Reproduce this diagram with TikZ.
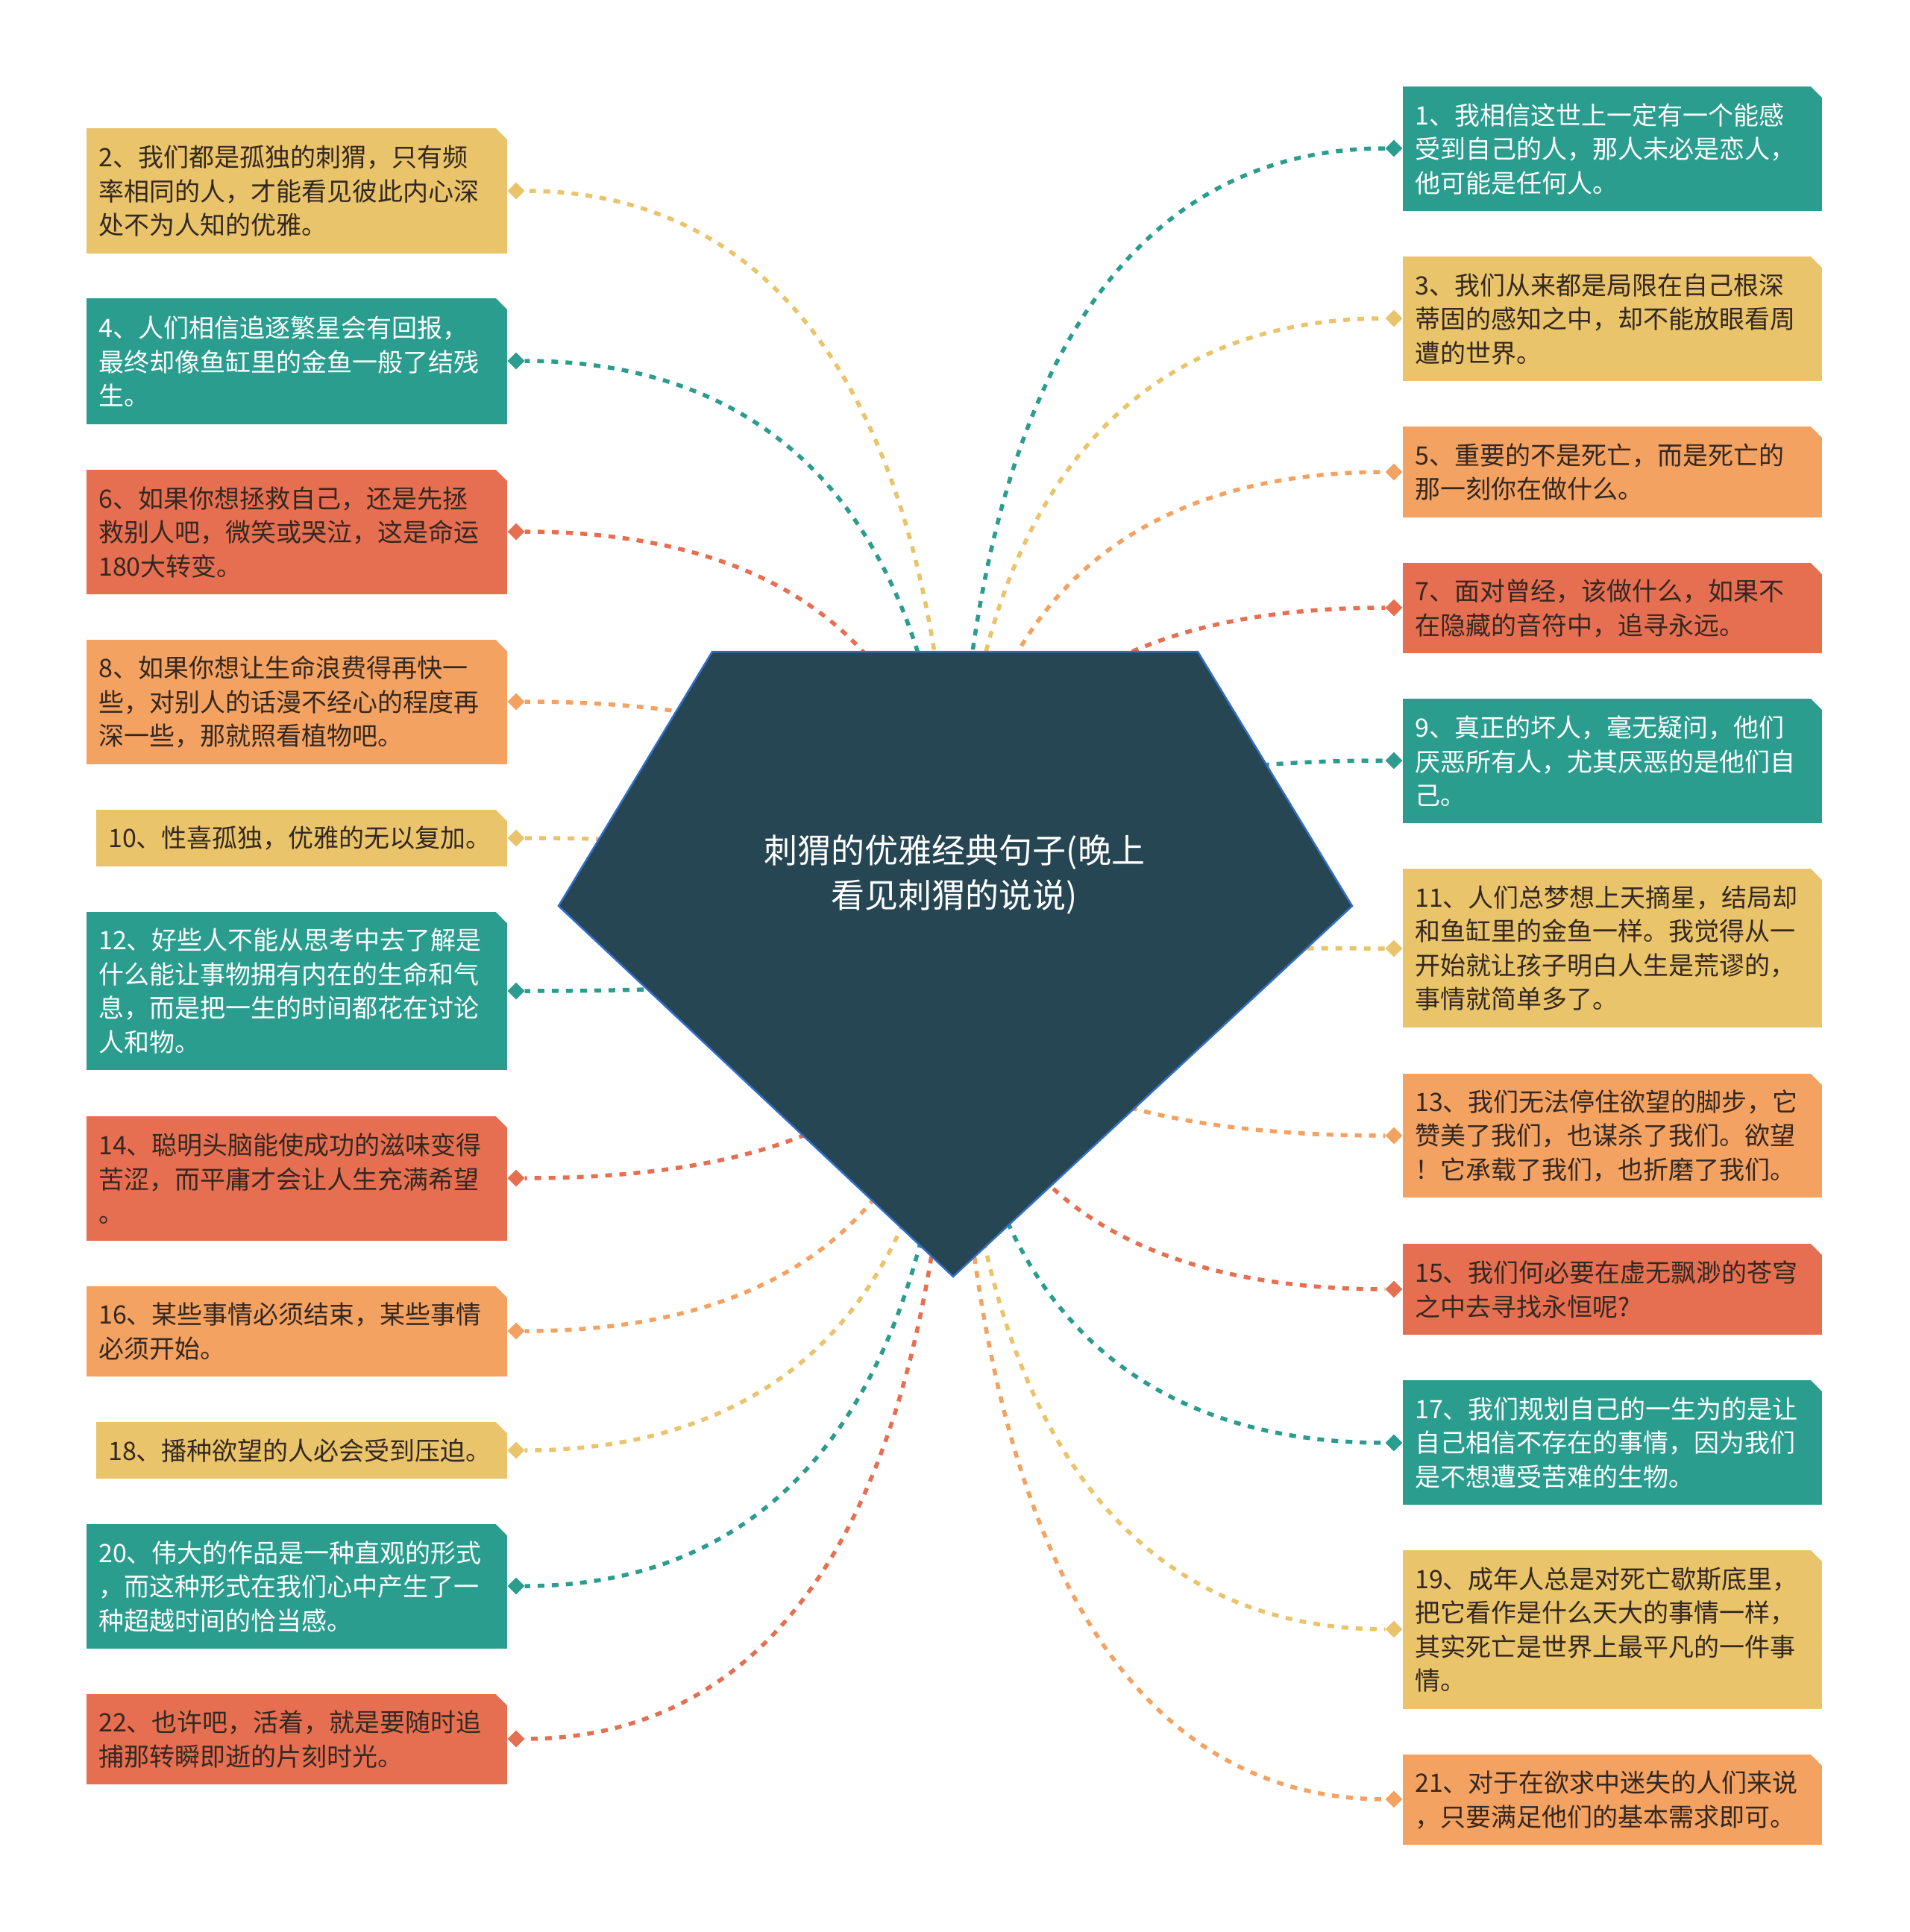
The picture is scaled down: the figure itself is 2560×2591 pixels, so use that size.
\documentclass[tikz,border=0pt]{standalone}
\usepackage{fontspec}
\setmainfont{Noto Sans CJK SC}
\newfontfamily\cjkfont{Noto Sans CJK SC}
\usetikzlibrary{shapes.geometric,calc}
\definecolor{cy}{RGB}{233,196,106}
\definecolor{ct}{RGB}{42,157,143}
\definecolor{co}{RGB}{244,162,97}
\definecolor{cr}{RGB}{231,111,81}
\definecolor{cpent}{RGB}{38,70,83}
\definecolor{cblue}{RGB}{50,110,200}
\definecolor{cdark}{RGB}{52,40,34}
\newcommand\boxfnt{\cjkfont\fontsize{34pt}{45.5pt}\selectfont}
\newcommand\titlefnt{\cjkfont\fontsize{45pt}{59.5pt}\selectfont}
\tikzset{
  box/.style={rectangle, anchor=north west, text width=#1, inner xsep=16pt, inner ysep=0pt,
    align=left, font=\boxfnt,
    path picture={\fill[white] ([xshift=-15pt]path picture bounding box.north east)
      -- ([xshift=1pt,yshift=1pt]path picture bounding box.north east)
      -- ([yshift=-15pt]path picture bounding box.north east) -- cycle;}},
  ybox/.style={fill=cy, text=cdark},
  tbox/.style={fill=ct, text=white},
  obox/.style={fill=co, text=cdark},
  rbox/.style={fill=cr, text=cdark},
  dia/.style={diamond, minimum width=23pt, minimum height=23pt, inner sep=0pt, fill=#1},
  conn/.style={draw=#1, line width=5.5pt, dash pattern=on 9pt off 10pt},
}
\begin{document}
\begin{tikzpicture}[x=1pt,y=-1pt]
\useasboundingbox[fill=white] (0,0) rectangle (2560,2591);
\coordinate (o) at (1280,1250);

% ---------- left boxes ----------
\node[box=532pt, ybox, minimum height=168pt] (b2) at (116,172) {2、我们都是孤独的刺猬，只有频\\率相同的人，才能看见彼此内心深\\处不为人知的优雅。};
\node[box=532pt, tbox, minimum height=169pt] (b4) at (116,400) {4、人们相信追逐繁星会有回报，\\最终却像鱼缸里的金鱼一般了结残\\生。};
\node[box=532pt, rbox, minimum height=167pt] (b6) at (116,630) {6、如果你想拯救自己，还是先拯\\救别人吧，微笑或哭泣，这是命运\\180大转变。};
\node[box=532pt, obox, minimum height=167pt] (b8) at (116,858) {8、如果你想让生命浪费得再快一\\些，对别人的话漫不经心的程度再\\深一些，那就照看植物吧。};
\node[box=519pt, ybox, minimum height=76pt] (b10) at (129,1086) {10、性喜孤独，优雅的无以复加。};
\node[box=532pt, tbox, minimum height=212pt] (b12) at (116,1223) {12、好些人不能从思考中去了解是\\什么能让事物拥有内在的生命和气\\息，而是把一生的时间都花在讨论\\人和物。};
\node[box=532pt, rbox, minimum height=167pt] (b14) at (116,1497) {14、聪明头脑能使成功的滋味变得\\苦涩，而平庸才会让人生充满希望\\。};
\node[box=532pt, obox, minimum height=121pt] (b16) at (116,1725) {16、某些事情必须结束，某些事情\\必须开始。};
\node[box=519pt, ybox, minimum height=76pt] (b18) at (129,1907) {18、播种欲望的人必会受到压迫。};
\node[box=532pt, tbox, minimum height=167pt] (b20) at (116,2044) {20、伟大的作品是一种直观的形式\\，而这种形式在我们心中产生了一\\种超越时间的恰当感。};
\node[box=532pt, rbox, minimum height=121pt] (b22) at (116,2272) {22、也许吧，活着，就是要随时追\\捕那转瞬即逝的片刻时光。};

% ---------- right boxes ----------
\node[box=530pt, tbox, minimum height=167pt] (b1) at (1881,116) {1、我相信这世上一定有一个能感\\受到自己的人，那人未必是恋人，\\他可能是任何人。};
\node[box=530pt, ybox, minimum height=167pt] (b3) at (1881,344) {3、我们从来都是局限在自己根深\\蒂固的感知之中，却不能放眼看周\\遭的世界。};
\node[box=530pt, obox, minimum height=122pt] (b5) at (1881,572) {5、重要的不是死亡，而是死亡的\\那一刻你在做什么。};
\node[box=530pt, rbox, minimum height=121pt] (b7) at (1881,755) {7、面对曾经，该做什么，如果不\\在隐藏的音符中，追寻永远。};
\node[box=530pt, tbox, minimum height=167pt] (b9) at (1881,937) {9、真正的坏人，毫无疑问，他们\\厌恶所有人，尤其厌恶的是他们自\\己。};
\node[box=530pt, ybox, minimum height=213pt] (b11) at (1881,1165) {11、人们总梦想上天摘星，结局却\\和鱼缸里的金鱼一样。我觉得从一\\开始就让孩子明白人生是荒谬的，\\事情就简单多了。};
\node[box=530pt, obox, minimum height=166pt] (b13) at (1881,1440) {13、我们无法停住欲望的脚步，它\\赞美了我们，也谋杀了我们。欲望\\！它承载了我们，也折磨了我们。};
\node[box=530pt, rbox, minimum height=122pt] (b15) at (1881,1668) {15、我们何必要在虚无飘渺的苍穹\\之中去寻找永恒呢?};
\node[box=530pt, tbox, minimum height=167pt] (b17) at (1881,1851) {17、我们规划自己的一生为的是让\\自己相信不存在的事情，因为我们\\是不想遭受苦难的生物。};
\node[box=530pt, ybox, minimum height=213pt] (b19) at (1881,2079) {19、成年人总是对死亡歇斯底里，\\把它看作是什么天大的事情一样，\\其实死亡是世界上最平凡的一件事\\情。};
\node[box=530pt, obox, minimum height=121pt] (b21) at (1881,2353) {21、对于在欲求中迷失的人们来说\\，只要满足他们的基本需求即可。};

% ---------- diamonds ----------
\node[dia=cy] (d2) at (692,256) {};
\node[dia=ct] (d4) at (692,484) {};
\node[dia=cr] (d6) at (692,713) {};
\node[dia=co] (d8) at (692,941) {};
\node[dia=cy] (d10) at (692,1124) {};
\node[dia=ct] (d12) at (692,1329) {};
\node[dia=cr] (d14) at (692,1580) {};
\node[dia=co] (d16) at (692,1785) {};
\node[dia=cy] (d18) at (692,1945) {};
\node[dia=ct] (d20) at (692,2127) {};
\node[dia=cr] (d22) at (692,2332) {};
\node[dia=ct] (d1) at (1869,199) {};
\node[dia=cy] (d3) at (1869,427) {};
\node[dia=co] (d5) at (1869,633) {};
\node[dia=cr] (d7) at (1869,815) {};
\node[dia=ct] (d9) at (1869,1020) {};
\node[dia=cy] (d11) at (1869,1272) {};
\node[dia=co] (d13) at (1869,1523) {};
\node[dia=cr] (d15) at (1869,1729) {};
\node[dia=ct] (d17) at (1869,1935) {};
\node[dia=cy] (d19) at (1869,2185) {};
\node[dia=co] (d21) at (1869,2413) {};

% ---------- connectors ----------
\foreach \d/\c in {d2/cy,d4/ct,d6/cr,d8/co,d10/cy,d12/ct,d14/cr,d16/co,d18/cy,d20/ct,d22/cr}{
  \draw[conn=\c] (o) .. controls ($(o)!0.8!(o |- \d)$) and ($(o |- \d)!0.5!(\d)$) .. (\d.east);
}
\foreach \d/\c in {d1/ct,d3/cy,d5/co,d7/cr,d9/ct,d11/cy,d13/co,d15/cr,d17/ct,d19/cy,d21/co}{
  \draw[conn=\c] (o) .. controls ($(o)!0.8!(o |- \d)$) and ($(o |- \d)!0.5!(\d)$) .. (\d.west);
}

% ---------- centre ----------
\filldraw[fill=cpent, draw=cblue, line width=2.5pt, line join=miter]
  (955,874) -- (1606,874) -- (1813,1215) -- (1278,1712) -- (749,1215) -- cycle;
\node[text=white, font=\titlefnt, align=center] (title) at (1280,1173) {刺猬的优雅经典句子(晚上\\看见刺猬的说说)};
\end{tikzpicture}
\end{document}
